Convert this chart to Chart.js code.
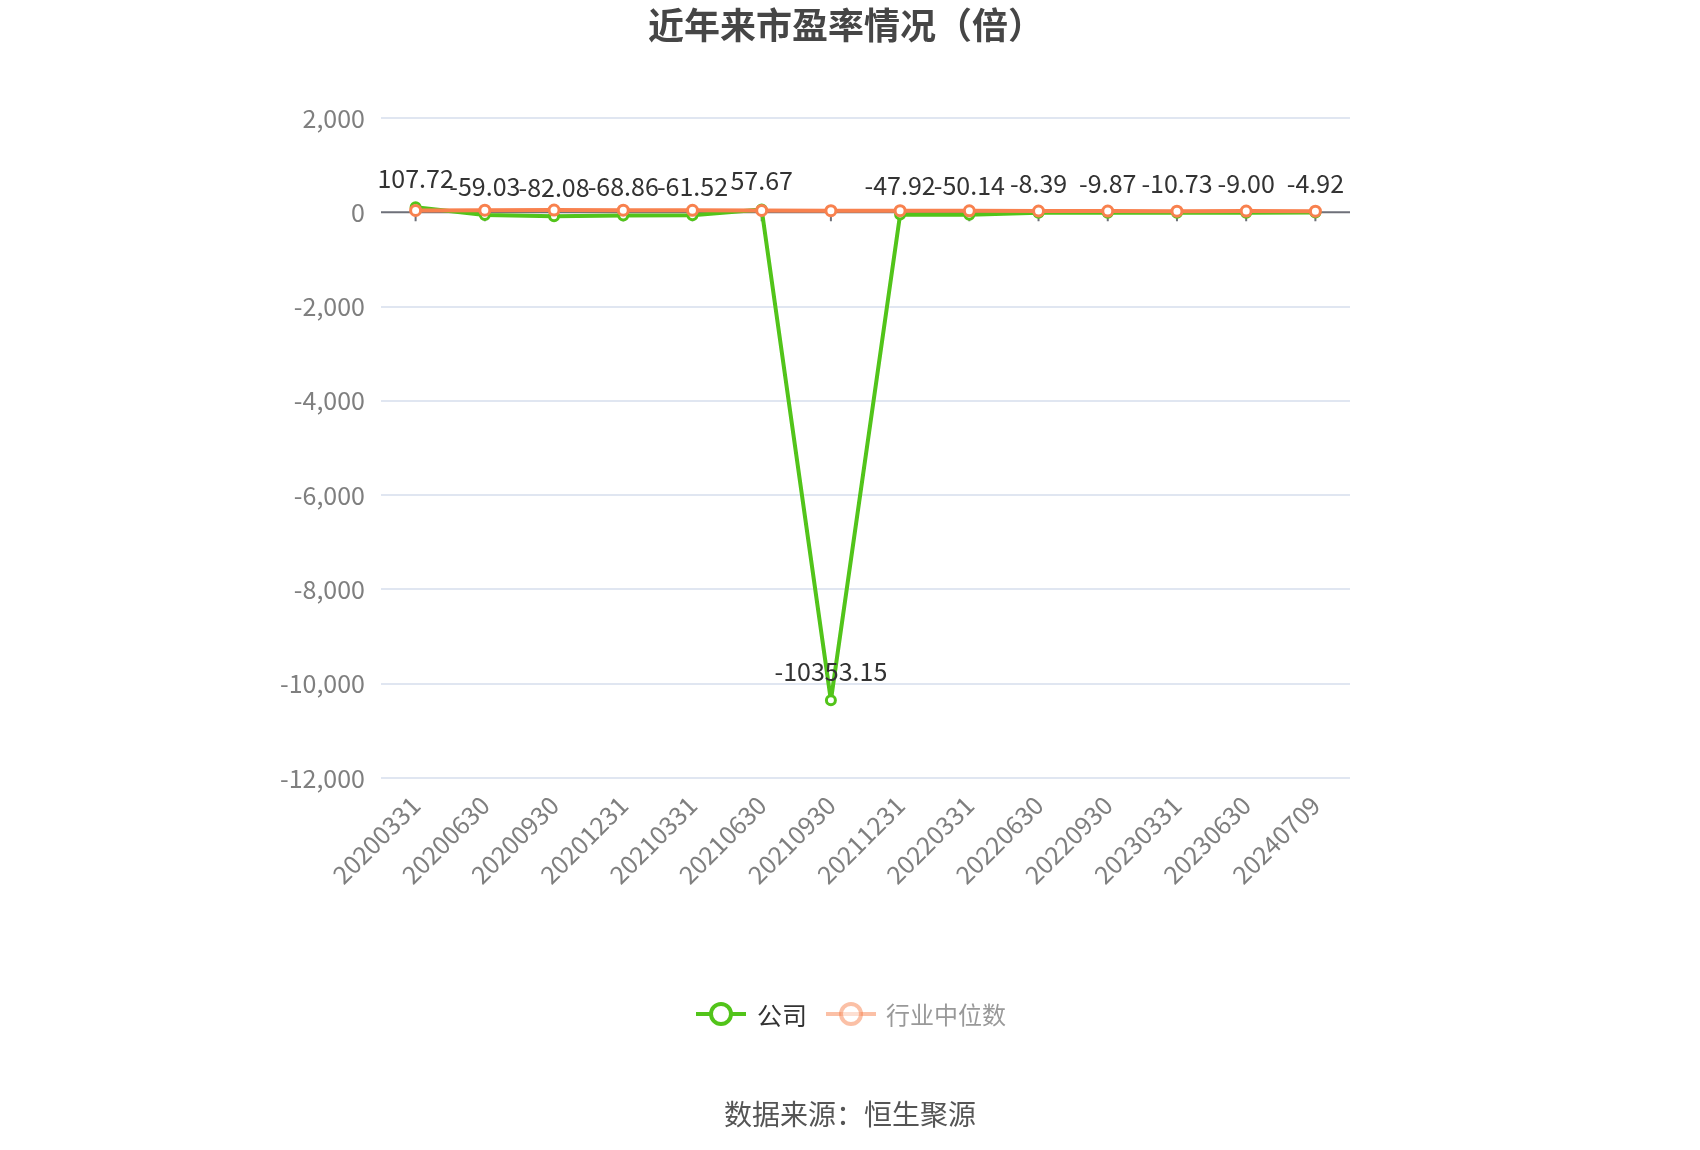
<!DOCTYPE html>
<html>
<head>
<meta charset="utf-8">
<script src="https://cdn.jsdelivr.net/npm/chart.js@4.4.1/dist/chart.umd.min.js"></script>
<style>
  html, body { margin: 0; padding: 0; background: #fff; }
  #wrap { width: 1700px; height: 1150px; }
</style>
</head>
<body>
<div id="wrap"><canvas id="peChart" width="1700" height="1150"></canvas></div>
<script>
// ===== data =====
const dates = ['20200331', '20200630', '20200930', '20201231', '20210331', '20210630', '20210930',
  '20211231', '20220331', '20220630', '20220930', '20230331', '20230630', '20240709'];
const companyPE = [107.72, -59.03, -82.08, -68.86, -61.52, 57.67, -10353.15,
  -47.92, -50.14, -8.39, -9.87, -10.73, -9.00, -4.92];
const industryPE = [39.5, 45.2, 47.8, 44.1, 41.3, 38.6, 35.2, 33.9, 30.4, 27.1, 24.8, 24.3, 25.1, 22.6];
const yTicks = [2000, 0, -2000, -4000, -6000, -8000, -10000, -12000];

const GREEN = '#52c41a';
const ORANGE = '#f8814e';
const FONT = '"Noto Sans CJK SC", "Noto Sans", sans-serif';

// zero line + small ticks, title, value labels, legend, source
const decorPlugin = {
  id: 'decor',
  beforeDatasetsDraw(chart) {
    const ctx = chart.ctx;
    const x = chart.scales.x, y = chart.scales.y;
    const y0 = y.getPixelForValue(0);
    ctx.save();
    ctx.strokeStyle = '#6e7079';
    ctx.lineWidth = 2;
    ctx.beginPath();
    ctx.moveTo(chart.chartArea.left, y0);
    ctx.lineTo(chart.chartArea.right, y0);
    dates.forEach((d, i) => {
      const px = x.getPixelForValue(i);
      ctx.moveTo(px, y0);
      ctx.lineTo(px, y0 + 9);
    });
    ctx.stroke();
    ctx.restore();
  },
  afterDatasetsDraw(chart) {
    const ctx = chart.ctx;
    ctx.save();
    // value labels for the company series
    const meta = chart.getDatasetMeta(0);
    ctx.font = '25px ' + FONT;
    ctx.fillStyle = '#333';
    ctx.textAlign = 'center';
    ctx.textBaseline = 'middle';
    meta.data.forEach((pt, i) => {
      ctx.fillText(companyPE[i].toFixed(2), pt.x, pt.y - 29);
    });

    // title
    ctx.font = 'bold 36px ' + FONT;
    ctx.fillStyle = '#464646';
    ctx.fillText('近年来市盈率情况（倍）', 846, 25);

    // legend
    const ly = 1014;
    function symbol(cx, color, alpha) {
      ctx.globalAlpha = alpha;
      ctx.strokeStyle = color;
      ctx.lineWidth = 4;
      ctx.beginPath();
      ctx.moveTo(cx - 25, ly);
      ctx.lineTo(cx + 25, ly);
      ctx.stroke();
      ctx.beginPath();
      ctx.arc(cx, ly, 10, 0, Math.PI * 2);
      ctx.fillStyle = '#fff';
      ctx.fill();
      ctx.stroke();
      ctx.globalAlpha = 1;
    }
    symbol(721, GREEN, 1);
    symbol(851, ORANGE, 0.5);
    ctx.font = '25px ' + FONT;
    ctx.textAlign = 'left';
    ctx.fillStyle = '#333';
    ctx.fillText('公司', 757, ly + 1);
    ctx.font = '24px ' + FONT;
    ctx.fillStyle = '#999';
    ctx.fillText('行业中位数', 886, ly + 1);

    // source
    ctx.font = '28px ' + FONT;
    ctx.textAlign = 'center';
    ctx.fillStyle = '#555';
    ctx.fillText('数据来源：恒生聚源', 850, 1114);
    ctx.restore();
  }
};

const ctx = document.getElementById('peChart').getContext('2d');
const peChart = new Chart(ctx, {
  type: 'line',
  data: {
    labels: dates,
    datasets: [
      {
        label: '公司',
        data: companyPE,
        borderColor: GREEN,
        backgroundColor: '#fff',
        borderWidth: 4,
        borderJoinStyle: 'round',
        pointRadius: 4.5,
        pointBorderWidth: 3,
        pointBorderColor: GREEN,
        pointBackgroundColor: '#fff',
        tension: 0,
        order: 2
      },
      {
        label: '行业中位数',
        data: industryPE,
        borderColor: ORANGE,
        backgroundColor: '#fff',
        borderWidth: 4,
        borderJoinStyle: 'round',
        pointRadius: 5,
        pointBorderWidth: 3,
        pointBorderColor: ORANGE,
        pointBackgroundColor: '#fff',
        tension: 0,
        order: 1
      }
    ]
  },
  options: {
    responsive: false,
    animation: false,
    layout: { padding: { top: 118, right: 350, bottom: 250, left: 0 } },
    plugins: {
      legend: { display: false },
      title: { display: false },
      tooltip: { enabled: false }
    },
    scales: {
      x: {
        offset: true,
        grid: { display: false, drawTicks: false },
        border: { display: false },
        ticks: {
          autoSkip: false,
          minRotation: 45,
          maxRotation: 45,
          padding: 12,
          color: '#7f7f7f',
          font: { size: 25, family: FONT }
        },
        afterFit(scale) { scale.height = 122; }
      },
      y: {
        min: -12000,
        max: 2000,
        afterBuildTicks(scale) { scale.ticks = yTicks.map(v => ({ value: v })); },
        grid: {
          color: ctx => ctx.tick && ctx.tick.value === 0 ? 'rgba(0,0,0,0)' : '#e0e6f1',
          lineWidth: 2,
          drawTicks: false
        },
        border: { display: false },
        ticks: {
          padding: 16,
          color: '#7f7f7f',
          font: { size: 25, family: FONT },
          callback: v => v.toLocaleString('en-US')
        },
        afterFit(scale) { scale.width = 381; }
      }
    }
  },
  plugins: [decorPlugin]
});
</script>
</body>
</html>
